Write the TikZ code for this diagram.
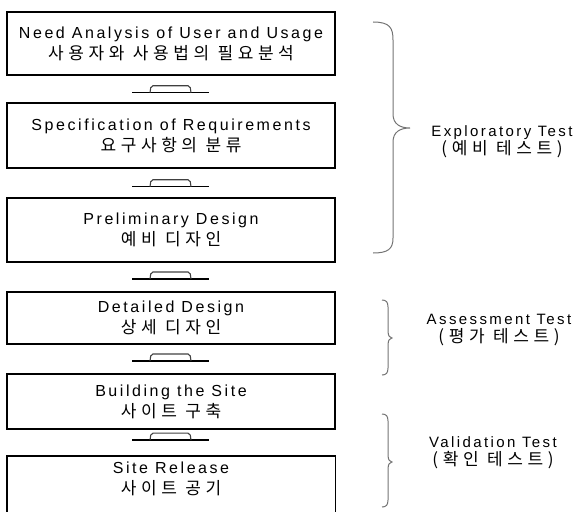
\documentclass[tikz,border=0pt]{standalone}
\usepackage{fontspec}
\setmainfont{Liberation Sans}[LetterSpace=16]
\newfontfamily\kr{Noto Sans CJK KR}[LetterSpace=27]
\usetikzlibrary{calc}
\tikzset{
  boxline/.style={draw=black, line width=1.4pt},
  stage/.style={boxline, minimum width=328pt, inner sep=0pt, align=center,
    font=\fontsize{16}{21}\selectfont},
  stagetext/.style={minimum width=328pt, inner sep=0pt, align=center,
    font=\fontsize{16}{21}\selectfont},
  testlabel/.style={inner sep=0pt, align=center, font=\fontsize{15}{18}\selectfont},
  braceline/.style={draw=black!55, line width=1pt},
  humpline/.style={draw=black, line width=1.3pt},
  hump/.pic={
    \draw[humpline] (-39,0) -- (38,0);
    \draw[humpline, draw=black!75, line width=1.1pt, rounded corners=2pt] (-21,0) -- (-20,-7) -- (19,-7) -- (20,0);
  }
}
\newcommand\krline[1]{{\kr\fontsize{17}{21}\selectfont #1}}
\begin{document}
\begin{tikzpicture}[x=1pt,y=-1pt]
\useasboundingbox (0,0) rectangle (588,511);
\clip (0,0) rectangle (588,511);
% stages
\node[stage, minimum height=63pt] (b1) at (171,43.5) {Need Analysis of User and Usage\\\krline{사용자와 사용법의 필요분석}};
\node[stage, minimum height=65pt] (b2) at (171,135.5) {Specification of Requirements\\\krline{요구사항의 분류}};
\node[stage, minimum height=64pt] (b3) at (171,230) {Preliminary Design\\\krline{예비 디자인}};
\node[stage, minimum height=52pt] (b4) at (171,318) {Detailed Design\\\krline{상세 디자인}};
\node[stage, minimum height=55pt] (b5) at (171,401.5) {Building the Site\\\krline{사이트 구축}};
\node[stagetext, minimum height=45pt] (b6) at (171,478.5) {Site Release\\\krline{사이트 공기}};
\draw[boxline] (b6.north west) rectangle ($(b6.south east)+(0,40)$);
% links between stages
\pic (c1) at ($(b1.south)!0.64!(b2.north)$) {hump};
\pic (c2) at ($(b2.south)!0.63!(b3.north)$) {hump};
\pic (c3) at ($(b3.south)!0.57!(b4.north)$) {hump};
\pic (c4) at ($(b4.south)!0.57!(b5.north)$) {hump};
\pic (c5) at ($(b5.south)!0.40!(b6.north)$) {hump};
% braces
\draw[braceline] (373,22) .. controls (390,22) and (393,28) .. (393,40) -- (393,114)
  .. controls (393,124) and (400,128) .. (410,128)
  .. controls (400,128) and (393,132) .. (393,142) -- (393,238)
  .. controls (393,249) and (388,253) .. (373,253);
\draw[braceline] (382,300) .. controls (386,300) and (388,302) .. (388,307) -- (388,331)
  .. controls (388,336) and (390,338) .. (392,338)
  .. controls (390,338) and (388,340) .. (388,345) -- (388,368)
  .. controls (388,373) and (386,375) .. (382,375);
\draw[braceline] (382,414) .. controls (386,414) and (388,416) .. (388,421) -- (388,455)
  .. controls (388,460) and (390,462) .. (392,462)
  .. controls (390,462) and (388,464) .. (388,469) -- (388,500)
  .. controls (388,505) and (386,507) .. (382,507);
% labels
\node[testlabel] (t1) at (502,142) {Exploratory Test\\{\kr\fontsize{17}{18}\selectfont (예비 테스트)}};
\node[testlabel] (t2) at (499,330) {Assessment Test\\{\kr\fontsize{17}{18}\selectfont (평가 테스트)}};
\node[testlabel] (t3) at (493,453) {Validation Test\\{\kr\fontsize{17}{18}\selectfont (확인 테스트)}};
\end{tikzpicture}
\end{document}
